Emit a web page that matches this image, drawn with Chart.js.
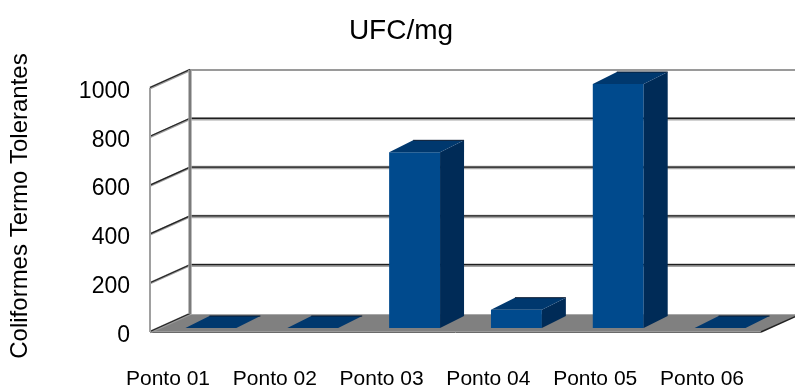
<!DOCTYPE html>
<html>
<head>
<meta charset="utf-8">
<script src="https://cdn.jsdelivr.net/npm/chart.js@4/dist/chart.umd.min.js"></script>
<style>
  html, body { margin: 0; padding: 0; background: #ffffff; }
  #c { display: block; }
</style>
</head>
<body>
<canvas id="c" width="795" height="388"></canvas>
<script>
// ---- data ----
const categories = ['Ponto 01', 'Ponto 02', 'Ponto 03', 'Ponto 04', 'Ponto 05', 'Ponto 06'];
const values = [0, 0, 720, 75, 1000, 0];
const yTicks = [0, 200, 400, 600, 800, 1000];
const chartTitle = 'UFC/mg';
const yTitle = 'Coliformes Termo Tolerantes';

const FONT = "'Liberation Sans', Arial, sans-serif";

// 3D offsets relative to the bar front plane
const FX = -10, FY = 4;    // front edge of the box
const BX = 30, BY = -14;   // back wall
const DX = 24, DY = -12;   // bar depth

function poly(ctx, pts) {
  ctx.beginPath();
  ctx.moveTo(pts[0][0], pts[0][1]);
  for (let i = 1; i < pts.length; i++) ctx.lineTo(pts[i][0], pts[i][1]);
  ctx.closePath();
}
function line(ctx, x1, y1, x2, y2, color, w) {
  ctx.beginPath();
  ctx.strokeStyle = color;
  ctx.lineWidth = w;
  ctx.moveTo(x1, y1);
  ctx.lineTo(x2, y2);
  ctx.stroke();
}

const threeD = {
  id: 'threeD',
  beforeDatasetsDraw(chart) {
    const { ctx, chartArea: { left: L, right: R }, scales: { y } } = chart;
    const y0 = y.getPixelForValue(0);
    const yT = y.getPixelForValue(y.max);
    ctx.save();
    // floor
    ctx.fillStyle = '#808080';
    poly(ctx, [[L + FX, y0 + FY], [R + FX, y0 + FY], [R + BX, y0 + BY], [L + BX, y0 + BY]]);
    ctx.fill();
    line(ctx, L + BX, y0 + BY + 0.5, R + BX, y0 + BY + 0.5, '#a8a8a8', 1);
    line(ctx, L + FX, y0 + FY - 0.5, R + FX, y0 + FY - 0.5, '#9a9a9a', 1);
    line(ctx, L + FX, y0 + FY + 0.5, R + FX, y0 + FY + 0.5, '#6a6a6a', 1);

    // grid lines on back wall and side wall
    yTicks.forEach(v => {
      const py = y.getPixelForValue(v);
      if (v !== 0) {
        if (v === y.max) {
          line(ctx, L + BX, py + BY, R + BX + 10, py + BY, '#9a9a9a', 2);
        } else {
          line(ctx, L + BX, py + BY, R + BX + 10, py + BY, '#a6a6a6', 3.5);
          line(ctx, L + BX, py + BY - 0.5, R + BX + 10, py + BY - 0.5, '#1e1e1e', 1.2);
        }
      }
      line(ctx, L + FX, py + FY, L + BX, py + BY, '#9a9a9a', 2.5);
      line(ctx, L + FX, py + FY - 0.5, L + BX, py + BY - 0.5, '#222222', 1.2);
    });
    // right end of floor
    line(ctx, R + FX, y0 + FY, R + BX, y0 + BY, '#222222', 1.5);

    // side wall front edge
    line(ctx, L + FX, y0 + FY, L + FX, yT + FY, '#a0a0a0', 2);
    // back wall left edge
    line(ctx, L + BX, y0 + BY, L + BX, yT + BY, '#a6a6a6', 3.5);
    line(ctx, L + BX, y0 + BY, L + BX, yT + BY, '#505050', 1);
    ctx.restore();
  },
  afterDatasetsDraw(chart) {
    const { ctx } = chart;
    const meta = chart.getDatasetMeta(0);
    ctx.save();
    meta.data.forEach(bar => {
      const p = bar.getProps(['x', 'y', 'base', 'width'], true);
      const l = p.x - p.width / 2, r = p.x + p.width / 2;
      const top = Math.min(p.y, p.base), base = Math.max(p.y, p.base);
      // side face
      if (base - top > 0) {
        ctx.fillStyle = '#002b57';
        poly(ctx, [[r, top], [r + DX, top + DY], [r + DX, base + DY], [r, base]]);
        ctx.fill();
      }
      // top face
      ctx.fillStyle = '#00386e';
      poly(ctx, [[l, top], [r, top], [r + DX, top + DY], [l + DX, top + DY]]);
      ctx.fill();
      line(ctx, l + DX, top + DY, r + DX, top + DY, '#0a1a30', 1);
    });
    ctx.restore();
  }
};

new Chart(document.getElementById('c'), {
  type: 'bar',
  data: {
    labels: categories,
    datasets: [{
      data: values,
      backgroundColor: '#004a8d',
      borderWidth: 0,
      barPercentage: 0.5,
      categoryPercentage: 1.0
    }]
  },
  options: {
    responsive: false,
    animation: false,
    devicePixelRatio: 1,
    layout: { padding: { left: 31, right: 24, top: 0, bottom: 0 } },
    plugins: {
      legend: { display: false },
      tooltip: { enabled: false },
      title: {
        display: true,
        text: chartTitle,
        color: '#000000',
        font: { family: FONT, size: 28, weight: 'normal' },
        padding: { top: 14, bottom: 36.4 }
      }
    },
    scales: {
      x: {
        type: 'category',
        display: false
      },
      xl: {
        type: 'linear',
        position: 'bottom',
        offset: false,
        min: -0.075,
        max: 5.646,
        grid: { display: false, drawTicks: false, offset: false },
        border: { display: false },
        afterBuildTicks: s => { s.ticks = categories.map((c, i) => ({ value: i })); },
        afterFit: s => { s.height = 60; },
        ticks: {
          autoSkip: false,
          maxRotation: 0,
          minRotation: 0,
          padding: 39,
          color: '#000000',
          font: { family: FONT, size: 21 },
          callback: v => categories[v]
        }
      },
      y: {
        min: 0,
        max: 1000,
        grid: { display: false, drawTicks: false },
        border: { display: false },
        afterBuildTicks: s => { s.ticks = yTicks.map(v => ({ value: v })); },
        afterFit: s => { s.width = 129; },
        ticks: {
          padding: 30,
          labelOffset: 7.5,
          color: '#000000',
          font: { family: FONT, size: 23 },
          callback: v => String(v)
        },
        title: {
          display: true,
          text: yTitle,
          color: '#000000',
          font: { family: FONT, size: 24 },
          padding: { top: -25.4, bottom: 0 }
        }
      }
    }
  },
  plugins: [threeD]
});
</script>
</body>
</html>
